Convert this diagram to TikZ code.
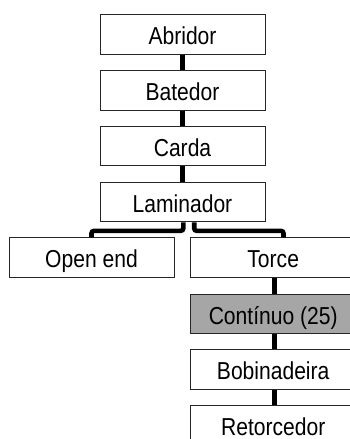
\documentclass[tikz,border=0pt]{standalone}
\usepackage{fontspec}
\setmainfont{Liberation Sans}[FakeStretch=0.86]
\definecolor{boxgray}{HTML}{A6A6A6}
\begin{document}
\begin{tikzpicture}[x=1pt,y=-1pt,
  stage/.style={draw=black!85, line width=1pt, fill=white,
    minimum width=165pt, minimum height=39.5pt, inner sep=0pt,
    text height=20.5pt, text depth=0pt,
    font=\fontsize{24.5}{28}\selectfont},
  active/.style={stage, fill=boxgray},
  link/.style={line width=4.6pt, black},
  branch/.style={link, rounded corners=2.5pt}]
  \useasboundingbox (0,0) rectangle (350,439);
  \clip (0,0) rectangle (350,439);

  % main line of machines
  \node[stage] (abr) at (182.5,34.4) {Abridor};
  \node[stage] (bat) at (182.5,90.4) {Batedor};
  \node[stage] (car) at (182.5,146.2) {Carda};
  \node[stage] (lam) at (182.5,202) {Laminador};

  % the two spinning routes
  \node[stage] (ope) at (91.5,257.5) {Open end};
  \node[stage] (tor) at (273.2,257.5) {Torce};
  \node[active] (con) at (273.2,313.8) {Contínuo (25)};
  \node[stage] (bob) at (273.2,369.5) {Bobinadeira};
  \node[stage] (ret) at (273.2,425.4) {Retorcedor};

  % connectors
  \draw[link] (abr.south) -- (bat.north);
  \draw[link] (bat.south) -- (car.north);
  \draw[link] (car.south) -- (lam.north);
  \draw[branch] ([xshift=0.8pt]lam.south) -- ++(0,8.6) -| (ope.north);
  \draw[branch] ([xshift=11.7pt]lam.south) -- ++(0,8.6) -| ([xshift=10.3pt]tor.north);
  \draw[link] ([xshift=1pt]tor.south) -- ([xshift=1pt]con.north);
  \draw[link] ([xshift=1pt]con.south) -- ([xshift=1pt]bob.north);
  \draw[link] ([xshift=1pt]bob.south) -- ([xshift=1pt]ret.north);
\end{tikzpicture}
\end{document}
